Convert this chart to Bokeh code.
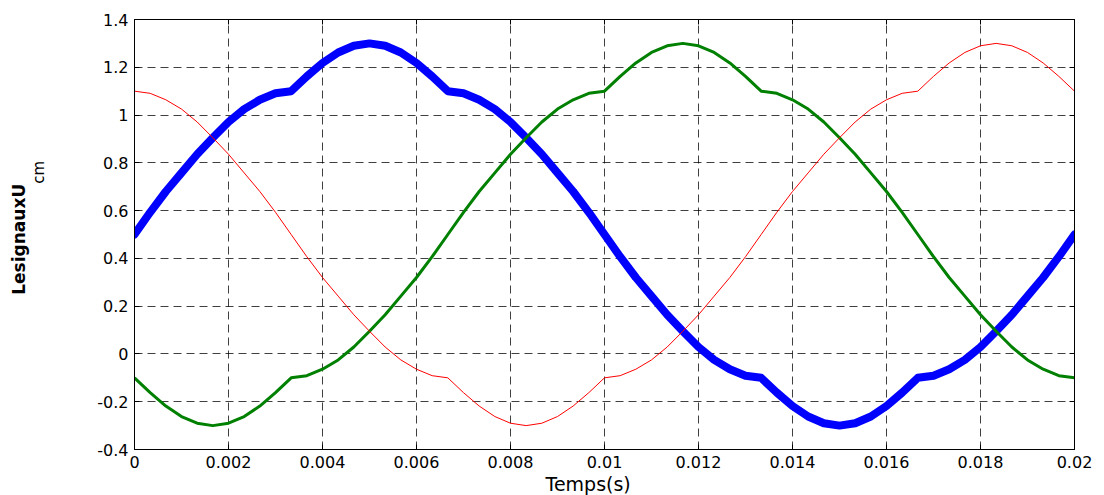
import numpy as np
from bokeh.plotting import figure
from bokeh.layouts import row
from bokeh.models import FixedTicker, Title, Range1d, LinearAxis
from bokeh.core.properties import value
from bokeh.embed import file_html
from bokeh.resources import INLINE

# sample grid (0 .. 20 ms, 61 samples)
t = np.linspace(0.0, 0.02, 61)

u_blue = [0.5, 0.593, 0.68, 0.758, 0.836, 0.905, 0.971, 1.025, 1.064, 1.091,
          1.1, 1.162, 1.218, 1.262, 1.29, 1.3, 1.29, 1.262, 1.218, 1.162,
          1.1, 1.091, 1.064, 1.025, 0.971, 0.905, 0.836, 0.758, 0.68, 0.593,
          0.5, 0.407, 0.32, 0.242, 0.164, 0.095, 0.029, -0.025, -0.064, -0.091,
          -0.1, -0.162, -0.218, -0.262, -0.29, -0.3, -0.29, -0.262, -0.218, -0.162,
          -0.1, -0.091, -0.064, -0.025, 0.029, 0.095, 0.164, 0.242, 0.32, 0.407,
          0.5]

u_green = [-0.1, -0.162, -0.218, -0.262, -0.29, -0.3, -0.29, -0.262, -0.218, -0.162,
           -0.1, -0.091, -0.064, -0.025, 0.029, 0.095, 0.164, 0.242, 0.32, 0.407,
           0.5, 0.593, 0.68, 0.758, 0.836, 0.905, 0.971, 1.025, 1.064, 1.091,
           1.1, 1.162, 1.218, 1.262, 1.29, 1.3, 1.29, 1.262, 1.218, 1.162,
           1.1, 1.091, 1.064, 1.025, 0.971, 0.905, 0.836, 0.758, 0.68, 0.593,
           0.5, 0.407, 0.32, 0.242, 0.164, 0.095, 0.029, -0.025, -0.064, -0.091,
           -0.1]

u_red = [1.1, 1.091, 1.064, 1.025, 0.971, 0.905, 0.836, 0.758, 0.68, 0.593,
         0.5, 0.407, 0.32, 0.242, 0.164, 0.095, 0.029, -0.025, -0.064, -0.091,
         -0.1, -0.162, -0.218, -0.262, -0.29, -0.3, -0.29, -0.262, -0.218, -0.162,
         -0.1, -0.091, -0.064, -0.025, 0.029, 0.095, 0.164, 0.242, 0.32, 0.407,
         0.5, 0.593, 0.68, 0.758, 0.836, 0.905, 0.971, 1.025, 1.064, 1.091,
         1.1, 1.162, 1.218, 1.262, 1.29, 1.3, 1.29, 1.262, 1.218, 1.162,
         1.1]

x_ticks = [0, 0.002, 0.004, 0.006, 0.008, 0.01, 0.012, 0.014, 0.016, 0.018, 0.02]
x_tick_labels = ["0", "0.002", "0.004", "0.006", "0.008", "0.01", "0.012",
                 "0.014", "0.016", "0.018", "0.02"]
y_ticks = [-0.4, -0.2, 0, 0.2, 0.4, 0.6, 0.8, 1, 1.2, 1.4]
y_tick_labels = ["-0.4", "-0.2", "0", "0.2", "0.4", "0.6", "0.8", "1", "1.2", "1.4"]

x_label = "Temps(s)"
y_label = "LesignauxU"
y_label_sub = "cm"

LABEL_W = 88   # narrow panel on the left that carries the y-axis title

p = figure(width=1104 - LABEL_W, height=495, output_backend="svg", toolbar_location=None,
           title=None,
           x_range=Range1d(0, 0.02), y_range=Range1d(-0.4, 1.4),
           min_border_left=134 - LABEL_W, min_border_right=30,
           min_border_top=19, min_border_bottom=46)

p.background_fill_color = "white"
p.border_fill_color = "white"
p.outline_line_color = "black"
p.outline_line_width = 1

# mirror axes on top / right: inward tick marks only
p.add_layout(LinearAxis(), "right")
p.add_layout(LinearAxis(), "above")

for ax in p.xaxis:
    ax.ticker = FixedTicker(ticks=x_ticks)
    ax.major_label_overrides = dict(zip(x_ticks, x_tick_labels))
for ax in p.yaxis:
    ax.ticker = FixedTicker(ticks=y_ticks)
    ax.major_label_overrides = dict(zip(y_ticks, y_tick_labels))

for ax in list(p.xaxis) + list(p.yaxis):
    ax.axis_line_color = "black"
    ax.axis_line_width = 1
    ax.major_tick_in = 5
    ax.major_tick_out = 0
    ax.major_tick_line_color = "black"
    ax.minor_tick_line_color = None
    ax.major_label_text_font = "DejaVu Sans"
    ax.major_label_text_font_size = "16px"
    ax.major_label_text_color = "black"
    ax.major_label_standoff = 6

for ax in (p.right[0], p.above[0]):
    ax.major_label_text_font_size = "1px"
    ax.major_label_text_color = None
    ax.major_label_standoff = 0

p.xgrid.ticker = FixedTicker(ticks=x_ticks)
p.ygrid.ticker = FixedTicker(ticks=y_ticks)
for g in (p.xgrid, p.ygrid):
    g.grid_line_color = "black"
    g.grid_line_alpha = 0.75
    g.grid_line_width = 1
    g.grid_line_dash = "8 5"

p.line(t, u_blue, line_color="#0000FF", line_width=8, line_join="round", line_cap="round")
p.line(t, u_green, line_color="#008000", line_width=3, line_join="round")
p.line(t, u_red, line_color="#FF0000", line_width=1)

p.add_layout(Title(text=x_label, align="left", offset=411, standoff=0,
                   text_font="DejaVu Sans", text_font_size="19px",
                   text_font_style="normal", text_color="black"), "below")

# left panel with the y-axis title and its subscript
lab = figure(width=LABEL_W, height=495, output_backend="svg", toolbar_location=None,
             title=None, x_range=Range1d(0, LABEL_W), y_range=Range1d(0, 495),
             min_border=0, min_border_left=0, min_border_right=0,
             min_border_top=0, min_border_bottom=0)
lab.outline_line_color = None
lab.background_fill_color = "white"
lab.border_fill_color = "white"
lab.xaxis.visible = False
lab.yaxis.visible = False
lab.xgrid.visible = False
lab.ygrid.visible = False
lab.text(x=[18.5], y=[495 - 253], text=[y_label], angle=np.pi / 2,
         text_align="center", text_baseline="middle",
         text_font=value("DejaVu Sans"), text_font_style="bold",
         text_font_size="17px", text_color="black")
lab.text(x=[38], y=[495 - 176], text=[y_label_sub], angle=np.pi / 2,
         text_align="center", text_baseline="middle",
         text_font=value("DejaVu Sans"), text_font_style="normal",
         text_font_size="15px", text_color="black")

layout = row(lab, p, spacing=0)
open("out.html", "w").write(file_html(layout, INLINE))
